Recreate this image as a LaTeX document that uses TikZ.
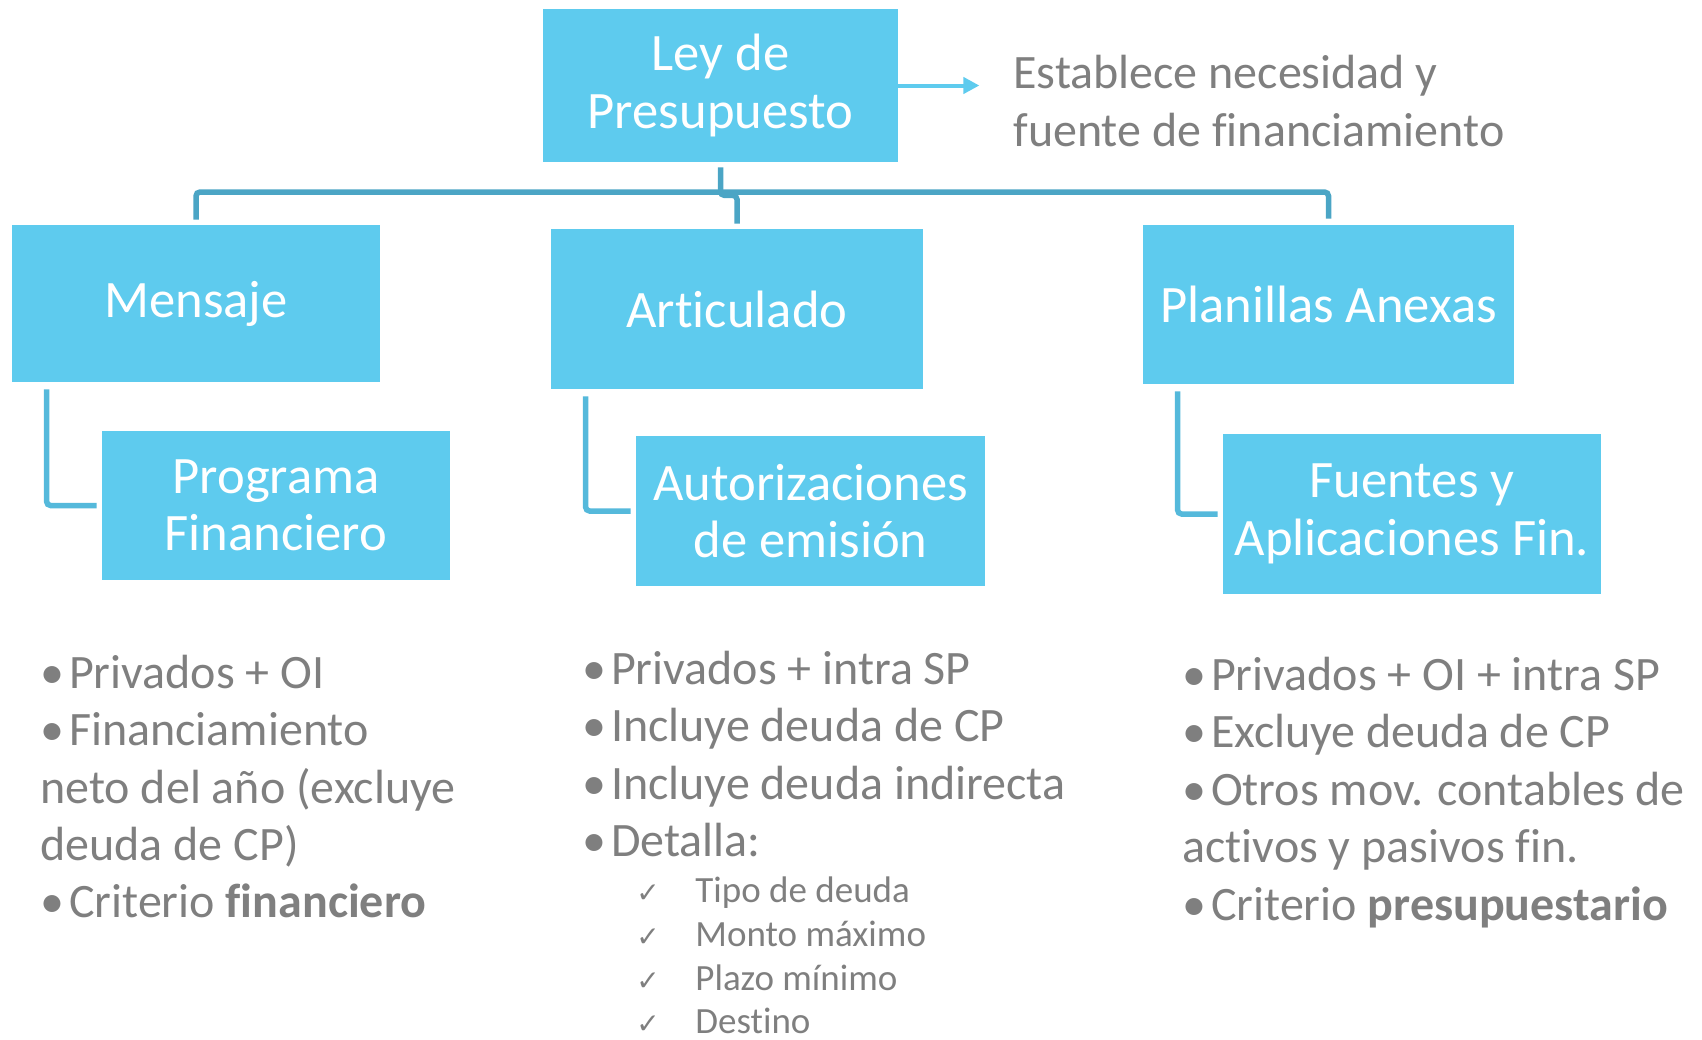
\documentclass[tikz,border=0pt]{standalone}
\usepackage{fontspec}
\setmainfont{Carlito}[RawFeature=-liga]
\newfontfamily\symfont{DejaVu Sans}
\usetikzlibrary{arrows.meta,positioning}

\definecolor{boxblue}{RGB}{94,203,238}
\definecolor{trunkblue}{RGB}{75,165,197}
\definecolor{branchblue}{RGB}{85,185,219}
\definecolor{textgray}{RGB}{127,127,127}

\tikzset{
  block/.style = {fill=boxblue, text=white, inner sep=0pt, align=center, font=\fontsize{26.3}{28.75}\selectfont},
  trunk/.style = {draw=trunkblue, line width=2.75pt, rounded corners=2pt},
  branch/.style = {draw=branchblue, line width=2.75pt, rounded corners=2pt},
  pointer/.style = {draw=boxblue, line width=2pt, -{Triangle[length=8pt,width=8pt]}},
  bullet/.style = {anchor=base west, inner sep=0pt, text=textgray, font=\fontsize{24}{28.75}\selectfont},
  checkitem/.style = {anchor=base west, inner sep=0pt, text=textgray, font=\fontsize{18.5}{22}\selectfont}
}
\newcommand{\bul}{•\hspace{2.4pt}}
\newcommand{\chk}[1]{\makebox[29.5pt][l]{\symfont\fontsize{14}{16}\selectfont ✓}#1}

\begin{document}
\begin{tikzpicture}[x=0.5pt, y=-0.5pt]
    \useasboundingbox (0,0) rectangle (1702,1039);

    % boxes
    \node[block, minimum width=177.5pt, minimum height=76.5pt] (ley) at (720.5,85.5) {Ley de\\Presupuesto};
    \node[block, minimum width=184pt, minimum height=78.5pt] (mensaje) at (196,303.5) {Mensaje};
    \node[block, minimum width=186pt, minimum height=80pt] (articulado) at (737,309) {Articulado};
    \node[block, minimum width=185.5pt, minimum height=79.5pt] (planillas) at (1328.5,304.5) {Planillas Anexas};
    \node[block, minimum width=174pt, minimum height=74.5pt] (programa) at (276,505.5) {Programa\\Financiero};
    \node[block, minimum width=174.5pt, minimum height=75pt] (autoriz) at (810.5,511) {Autorizaciones\\de emisión};
    \node[block, minimum width=189pt, minimum height=80pt] (fuentes) at (1412,514) {Fuentes y\\Aplicaciones Fin.};

    \node[bullet] (nota1) at (1013,88) {Establece necesidad y};
    \node[bullet] (nota2) at (1013,146) {fuente de financiamiento};
    \draw[pointer] (ley.east) -- ++(81,0);

    % connectors
    \coordinate (bar) at (720,192);
    \draw[trunk] ([yshift=2.5pt]mensaje.north) |- (bar) -| ([yshift=3pt]planillas.north);
    \draw[trunk] ([yshift=-2.5pt]ley.south) -- ++(0,28) -| ([yshift=2.5pt]articulado.north);
    \draw[branch] ([xshift=17.5pt,yshift=-3.5pt]mensaje.south west) |- ([xshift=-2.5pt]programa.west);
    \draw[branch] ([xshift=17.5pt,yshift=-3.5pt]articulado.south west) |- ([xshift=-2.5pt]autoriz.west);
    \draw[branch] ([xshift=17.5pt,yshift=-3.5pt]planillas.south west) |- ([xshift=-2.5pt]fuentes.west);

    % Mensaje
    \node[bullet] (m1) at (40,688) {\bul Privados + OI};
    \node[bullet] (m2) at (40,745.5) {\bul Financiamiento};
    \node[bullet] (m3) at (40,803) {neto del año (excluye};
    \node[bullet] (m4) at (40,860) {deuda de CP)};
    \node[bullet] (m5) at (40,917) {\bul Criterio \textbf{financiero}};

    % Articulado
    \node[bullet] (a1) at (582,684) {\bul Privados + intra SP};
    \node[bullet] (a2) at (582,741.5) {\bul Incluye deuda de CP};
    \node[bullet] (a3) at (582,799) {\bul Incluye deuda indirecta};
    \node[bullet] (a4) at (582,856.5) {\bul Detalla:};
    \node[checkitem] (c1) at (636,902) {\chk{Tipo de deuda}};
    \node[checkitem] (c2) at (636,946.5) {\chk{Monto máximo}};
    \node[checkitem] (c3) at (636,990.5) {\chk{Plazo mínimo}};
    \node[checkitem] (c4) at (636,1033.5) {\chk{Destino}};

    % Planillas
    \node[bullet] (p1) at (1182,690) {\bul Privados + OI + intra SP};
    \node[bullet] (p2) at (1182,747.5) {\bul Excluye deuda de CP};
    \node[bullet] (p3) at (1182,805) {\bul Otros mov. contables de};
    \node[bullet] (p4) at (1182,862.5) {activos y pasivos fin.};
    \node[bullet] (p5) at (1182,920) {\bul Criterio \textbf{presupuestario}};
\end{tikzpicture}
\end{document}
